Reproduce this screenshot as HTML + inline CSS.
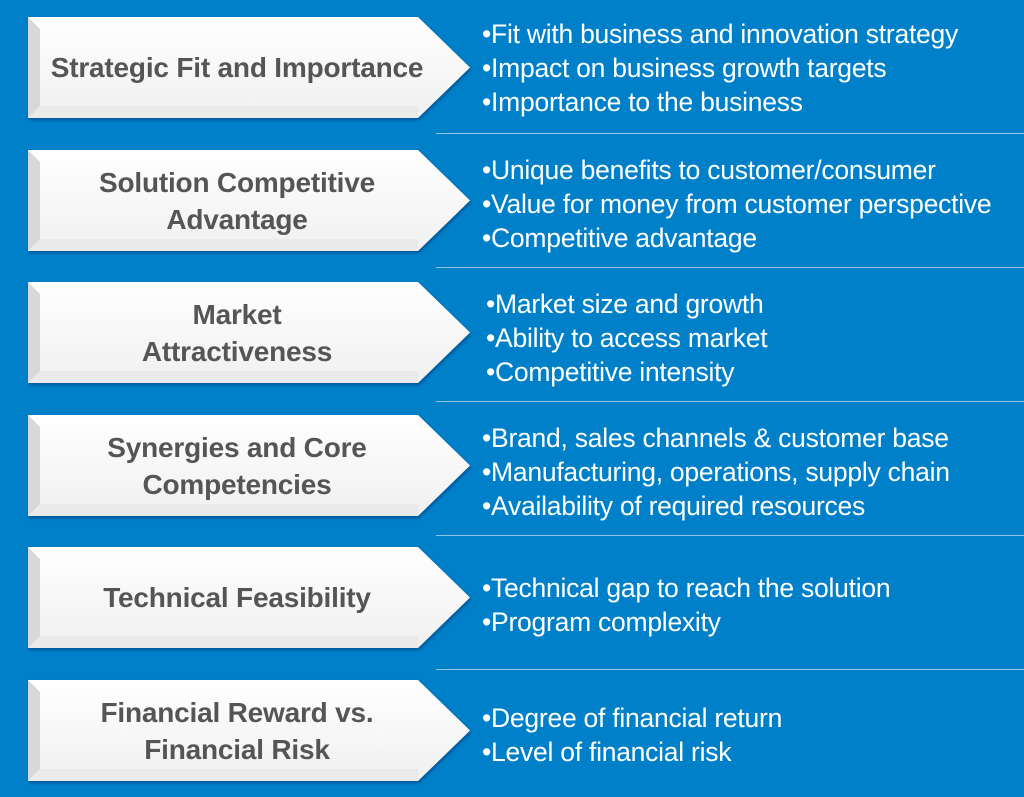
<!DOCTYPE html>
<html><head><style>
body{margin:0;width:1024px;height:797px;background:#0080c9;overflow:hidden;position:relative;font-family:"Liberation Sans",sans-serif}
.lbl{position:absolute;left:28px;width:418px;text-align:center;color:#555;font-weight:bold;font-size:28px;line-height:37px;display:flex;align-items:center;justify-content:center;height:101px;letter-spacing:-0.2px}
.b{position:absolute;left:482px;color:#fff;font-size:26.5px;line-height:34px;white-space:nowrap;letter-spacing:-0.25px}
.sep{position:absolute;left:436px;right:0;height:1px;background:#8fc3e6}
</style></head><body>
<svg width="1024" height="797" style="position:absolute;left:0;top:0">
<defs>
<linearGradient id="g" x1="0" y1="0" x2="0" y2="1"><stop offset="0" stop-color="#ffffff"/><stop offset="1" stop-color="#f0f0f0"/></linearGradient>
<filter id="s"><feDropShadow dx="1" dy="2" stdDeviation="1.5" flood-color="#003" flood-opacity="0.35"/></filter>
</defs>
<g id="a">
<polygon points="28,17 418,17 470,67.5 418,118 28,118" fill="url(#g)" filter="url(#s)"/>
<polygon points="28,17 40,29 40,106 28,118" fill="#d8d8d8"/>
<polygon points="28,118 40,106 418,106 418,118" fill="#eaeaea"/>
</g>
<use href="#a" y="133"/><use href="#a" y="265"/><use href="#a" y="398"/><use href="#a" y="530"/><use href="#a" y="663"/>
</svg>
<div class="lbl" style="top:17px">Strategic Fit and Importance</div>
<div class="lbl" style="top:150px">Solution Competitive<br>Advantage</div>
<div class="lbl" style="top:282px">Market<br>Attractiveness</div>
<div class="lbl" style="top:415px">Synergies and Core<br>Competencies</div>
<div class="lbl" style="top:547px">Technical Feasibility</div>
<div class="lbl" style="top:680px">Financial Reward vs.<br>Financial Risk</div>
<div class="sep" style="top:133px"></div><div class="sep" style="top:267px"></div><div class="sep" style="top:401px"></div><div class="sep" style="top:535px"></div><div class="sep" style="top:669px"></div>
<div class="b" style="top:17px">•Fit with business and innovation strategy<br>•Impact on business growth targets<br>•Importance to the business</div>
<div class="b" style="top:153px">•Unique benefits to customer/consumer<br>•Value for money from customer perspective<br>•Competitive advantage</div>
<div class="b" style="top:287px;left:486px">•Market size and growth<br>•Ability to access market<br>•Competitive intensity</div>
<div class="b" style="top:421px">•Brand, sales channels &amp; customer base<br>•Manufacturing, operations, supply chain<br>•Availability of required resources</div>
<div class="b" style="top:571px">•Technical gap to reach the solution<br>•Program complexity</div>
<div class="b" style="top:701px">•Degree of financial return<br>•Level of financial risk</div>
</body></html>
